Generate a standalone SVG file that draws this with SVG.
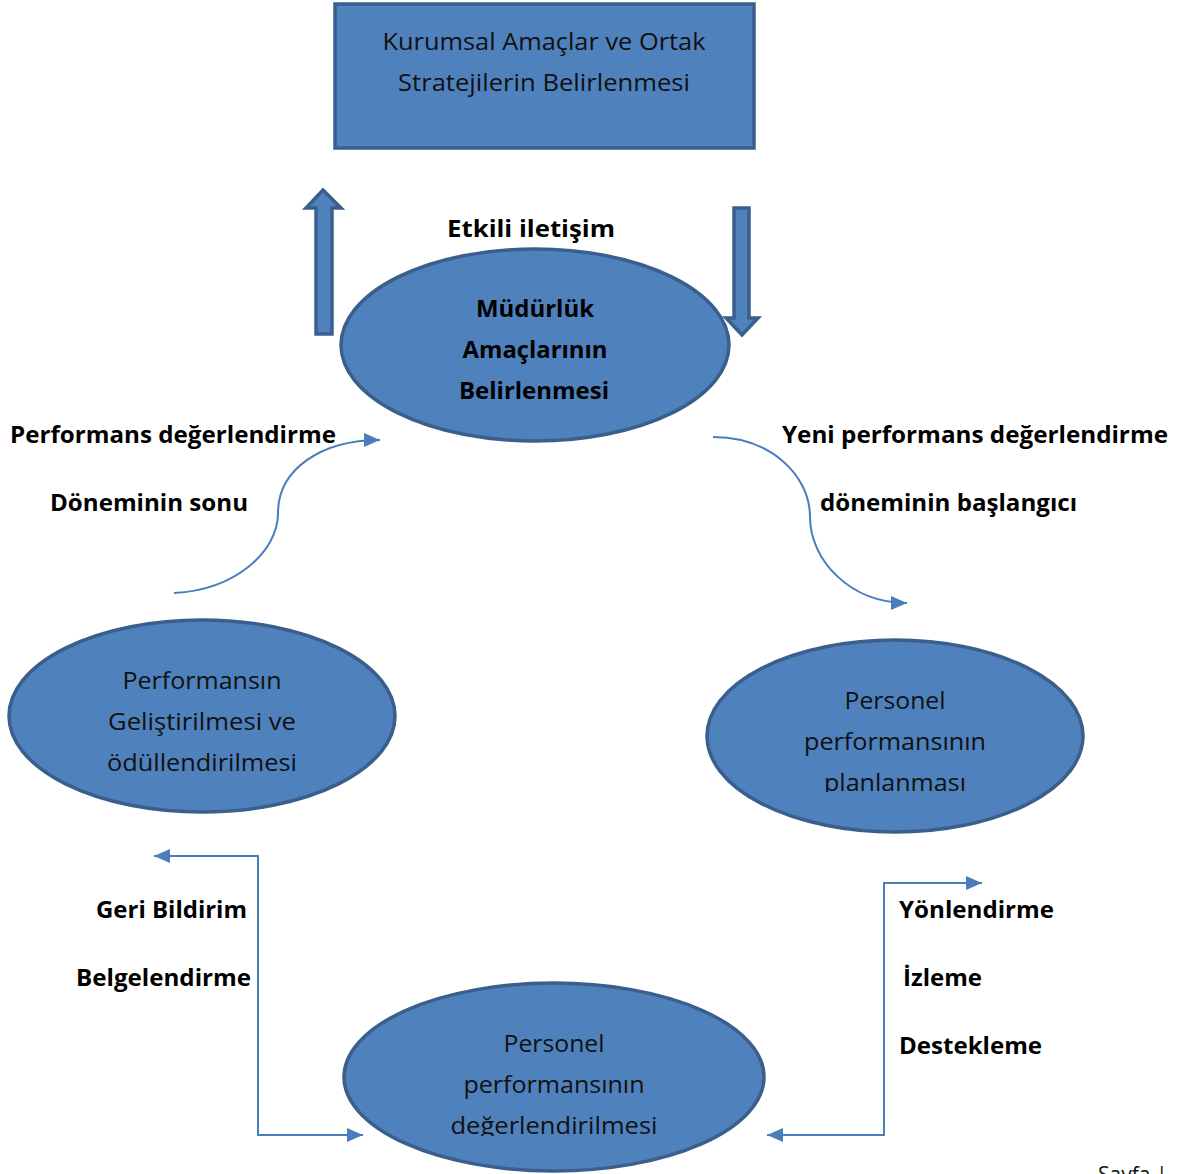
<svg xmlns="http://www.w3.org/2000/svg" width="1180" height="1174" viewBox="0 0 1180 1174">
<style>
.shape{fill:#4F81BD;stroke:#3A5F8C;stroke-width:3.5}
.t{font-family:"Open Sans","Liberation Sans",sans-serif;font-size:24px;fill:#111;text-anchor:middle}
.b{font-family:"Open Sans","Liberation Sans",sans-serif;font-size:24px;font-weight:bold;fill:#000}
.c{fill:none;stroke:#4A7EBB;stroke-width:2}
</style>
<defs>
<marker id="ah" markerUnits="userSpaceOnUse" markerWidth="18" markerHeight="14" refX="16" refY="7" orient="auto-start-reverse">
<path d="M0,0 L16,7 L0,14 z" fill="#4A7EBB"/>
</marker>
<clipPath id="clipR"><rect x="700" y="630" width="400" height="162"/></clipPath>
<clipPath id="clipB"><rect x="330" y="975" width="450" height="161"/></clipPath>
</defs>
<rect x="0" y="0" width="1180" height="1174" fill="#fff"/>

<g id="goals">
<rect class="shape" x="335" y="4" width="419" height="144"/>
<text class="t" x="544" y="50" textLength="323" lengthAdjust="spacingAndGlyphs">Kurumsal Amaçlar ve Ortak</text>
<text class="t" x="544" y="91" textLength="292" lengthAdjust="spacingAndGlyphs">Stratejilerin Belirlenmesi</text>
</g>

<g id="arrow-up">
<polygon class="shape" stroke-width="3" points="323,190 341,208 332,208 332,334 316,334 316,208 306,208"/>
</g>
<g id="arrow-down">
<polygon class="shape" stroke-width="3" points="734,208 749,208 749,318 758,318 742,335 726,318 734,318"/>
</g>

<g id="mudurluk">
<ellipse class="shape" cx="535" cy="345" rx="194" ry="96"/>
<text class="b" x="535" y="317" text-anchor="middle" textLength="118" lengthAdjust="spacingAndGlyphs">Müdürlük</text>
<text class="b" x="535" y="358" text-anchor="middle" textLength="145" lengthAdjust="spacingAndGlyphs">Amaçlarının</text>
<text class="b" x="534" y="399" text-anchor="middle" textLength="150" lengthAdjust="spacingAndGlyphs">Belirlenmesi</text>
</g>

<g id="gelistirme">
<ellipse class="shape" cx="202" cy="716" rx="193" ry="96"/>
<text class="t" x="202" y="689" textLength="159" lengthAdjust="spacingAndGlyphs">Performansın</text>
<text class="t" x="202" y="730" textLength="188" lengthAdjust="spacingAndGlyphs">Geliştirilmesi ve</text>
<text class="t" x="202" y="771" textLength="190" lengthAdjust="spacingAndGlyphs">ödüllendirilmesi</text>
</g>

<g id="planlama">
<ellipse class="shape" cx="895" cy="736" rx="188" ry="96"/>
<g clip-path="url(#clipR)">
<text class="t" x="895" y="709" textLength="101" lengthAdjust="spacingAndGlyphs">Personel</text>
<text class="t" x="895" y="750" textLength="182" lengthAdjust="spacingAndGlyphs">performansının</text>
<text class="t" x="895" y="791" textLength="142" lengthAdjust="spacingAndGlyphs">planlanması</text>
</g>
</g>

<g id="degerlendirme">
<ellipse class="shape" cx="554" cy="1077" rx="210" ry="94"/>
<g clip-path="url(#clipB)">
<text class="t" x="554" y="1052" textLength="101" lengthAdjust="spacingAndGlyphs">Personel</text>
<text class="t" x="554" y="1093" textLength="181" lengthAdjust="spacingAndGlyphs">performansının</text>
<text class="t" x="554" y="1134" textLength="207" lengthAdjust="spacingAndGlyphs">değerlendirilmesi</text>
</g>
</g>

<g id="connectors">
<path class="c" marker-end="url(#ah)" d="M174,593 C235,590 278,552 278,513 C278,470 320,440 380,440"/>
<path class="c" marker-end="url(#ah)" d="M713,437 C770,437 810,475 810,517 C810,560 850,603 907,603"/>
<path class="c" marker-start="url(#ah)" marker-end="url(#ah)" d="M154,856 L258,856 L258,1135 L363,1135"/>
<path class="c" marker-start="url(#ah)" marker-end="url(#ah)" d="M767,1135 L884,1135 L884,883 L982,883"/>
</g>

<g id="labels">
<text class="b" x="447" y="237" textLength="168" lengthAdjust="spacingAndGlyphs">Etkili iletişim</text>
<text class="b" x="10" y="443" textLength="326" lengthAdjust="spacingAndGlyphs">Performans değerlendirme</text>
<text class="b" x="50" y="511" textLength="198" lengthAdjust="spacingAndGlyphs">Döneminin sonu</text>
<text class="b" x="782" y="443" textLength="386" lengthAdjust="spacingAndGlyphs">Yeni performans değerlendirme</text>
<text class="b" x="820" y="511" textLength="257" lengthAdjust="spacingAndGlyphs">döneminin başlangıcı</text>
<text class="b" x="96" y="918" textLength="151" lengthAdjust="spacingAndGlyphs">Geri Bildirim</text>
<text class="b" x="76" y="986" textLength="175" lengthAdjust="spacingAndGlyphs">Belgelendirme</text>
<text class="b" x="899" y="918" textLength="155" lengthAdjust="spacingAndGlyphs">Yönlendirme</text>
<text class="b" x="903" y="986" textLength="79" lengthAdjust="spacingAndGlyphs">İzleme</text>
<text class="b" x="899" y="1054" textLength="143" lengthAdjust="spacingAndGlyphs">Destekleme</text>
<text x="1098" y="1182" font-family="'Open Sans','Liberation Sans',sans-serif" font-size="21" fill="#111">Sayfa |</text>
</g>
</svg>
